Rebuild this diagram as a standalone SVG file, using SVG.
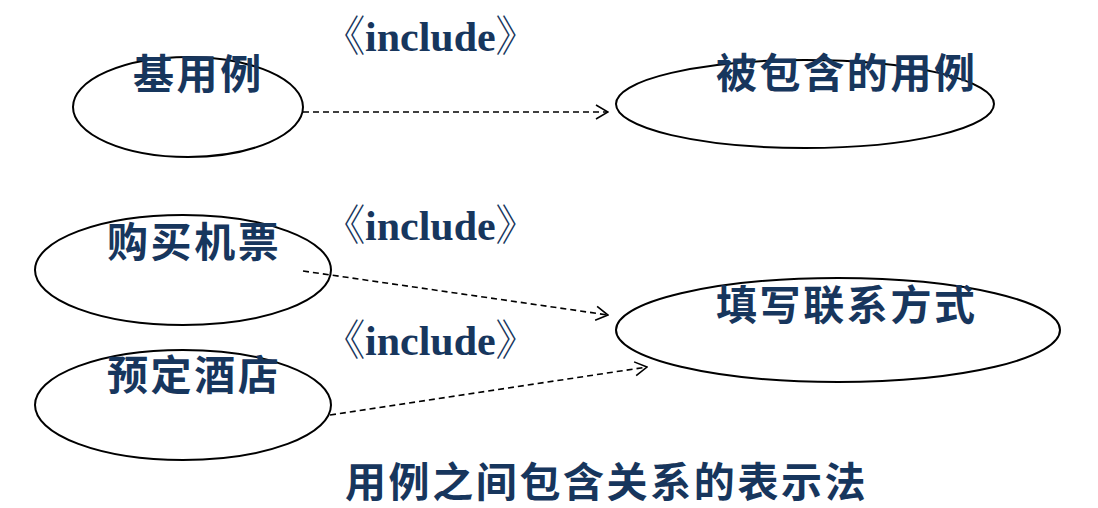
<svg xmlns="http://www.w3.org/2000/svg" width="1098" height="508" viewBox="0 0 1098 508">
<defs>
<style>
.node ellipse{fill:none;stroke:#000;stroke-width:2}
.cn{font-family:"Noto Sans CJK SC","Noto Sans",sans-serif;font-weight:bold;font-size:41px;letter-spacing:2.6px;fill:#17365D}
.st{font-family:"Liberation Serif","Noto Serif CJK SC","Noto Sans CJK SC",serif;font-weight:bold;font-size:42px;fill:#17365D}
.edge{fill:none;stroke:#000;stroke-width:1.6;stroke-dasharray:6 4}
</style>
<marker id="open" viewBox="0 0 14 16" refX="13" refY="8" markerWidth="14" markerHeight="16" markerUnits="userSpaceOnUse" orient="auto">
<path d="M1,1 L13,8 L1,15" fill="none" stroke="#000" stroke-width="1.6"/>
</marker>
</defs>
<rect width="1098" height="508" fill="#fff"/>
<g id="connectors">
<path class="edge" d="M303,112 L608,112" marker-end="url(#open)"/>
<path class="edge" d="M303,271 L608,315" marker-end="url(#open)"/>
<path class="edge" d="M330,415 L647,367" marker-end="url(#open)"/>
<text class="st" x="323" y="51">《include》</text>
<text class="st" x="323" y="240">《include》</text>
<text class="st" x="323" y="355">《include》</text>
</g>
<g id="base" class="node"><ellipse cx="188" cy="107" rx="115" ry="50"/><text class="cn" x="133" y="89">基用例</text></g>
<g id="included" class="node"><ellipse cx="805" cy="104" rx="189" ry="44"/><text class="cn" x="716" y="88">被包含的用例</text></g>
<g id="buy" class="node"><ellipse cx="183" cy="270" rx="148" ry="55"/><text class="cn" x="107" y="257">购买机票</text></g>
<g id="hotel" class="node"><ellipse cx="183" cy="405" rx="148" ry="55"/><text class="cn" x="107" y="390">预定酒店</text></g>
<g id="contact" class="node"><ellipse cx="838" cy="330" rx="222" ry="52"/><text class="cn" x="716" y="320">填写联系方式</text></g>
<text class="cn" x="345" y="497">用例之间包含关系的表示法</text>
</svg>
